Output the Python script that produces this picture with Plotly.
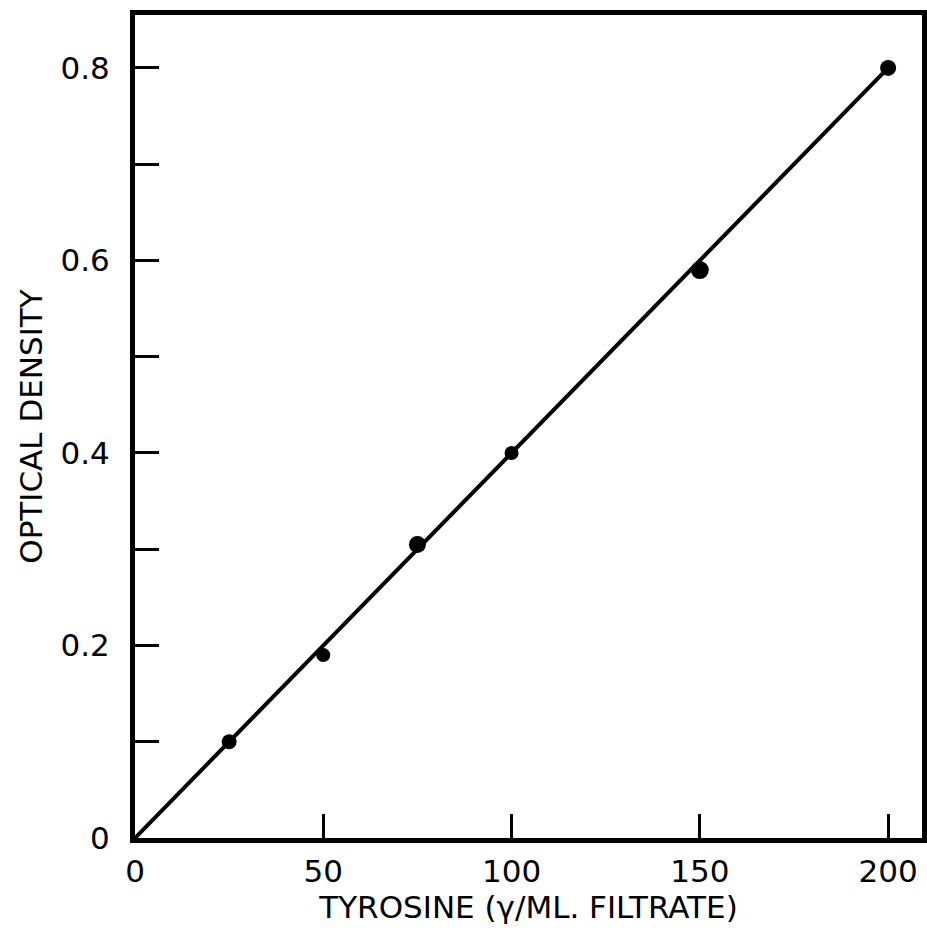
import plotly.graph_objects as go

# Data
tyrosine = [25, 50, 75, 100, 150, 200]
optical_density = [0.10, 0.19, 0.305, 0.40, 0.59, 0.80]
marker_sizes = [15, 14, 17, 14, 18, 16]

# Calibration line
fit_x = [0, 200]
fit_y = [0.0, 0.80]

x_tickvals = [0, 50, 100, 150, 200]
x_ticktext = ["0", "50", "100", "150", "200"]
y_tickvals = [0, 0.1, 0.2, 0.3, 0.4, 0.5, 0.6, 0.7, 0.8]
y_ticktext = ["0", "", "0.2", "", "0.4", "", "0.6", "", "0.8"]

FONT = "DejaVu Sans"
FS = 31

fig = go.Figure()
fig.add_trace(go.Scatter(
    x=fit_x, y=fit_y, mode="lines",
    line=dict(color="black", width=4),
    showlegend=False, hoverinfo="skip",
))
fig.add_trace(go.Scatter(
    x=tyrosine, y=optical_density, mode="markers",
    marker=dict(color="black", size=marker_sizes, opacity=1, line=dict(width=0)),
    showlegend=False,
))

fig.update_layout(
    width=927, height=935,
    margin=dict(l=135, r=5, t=15, b=97),
    paper_bgcolor="white", plot_bgcolor="white",
    font=dict(family=FONT, color="black", size=FS),
    xaxis=dict(
        range=[0, 209], tickvals=x_tickvals, ticktext=x_ticktext,
        ticks="inside", ticklen=24, tickwidth=3, tickcolor="black",
        showline=True, linecolor="black", linewidth=5, mirror=True,
        showgrid=False, zeroline=False,
        tickfont=dict(size=FS, family=FONT), ticklabelstandoff=2,
        title=dict(text="TYROSINE (γ/ML. FILTRATE)", font=dict(size=FS, family=FONT), standoff=6),
        automargin=False,
    ),
    yaxis=dict(
        range=[0, 0.855], tickvals=y_tickvals, ticktext=y_ticktext,
        ticks="inside", ticklen=24, tickwidth=3, tickcolor="black",
        showline=True, linecolor="black", linewidth=5, mirror=True,
        showgrid=False, zeroline=False,
        tickfont=dict(size=FS, family=FONT), ticklabelstandoff=14,
        title=dict(text="OPTICAL DENSITY", font=dict(size=FS, family=FONT), standoff=10),
        automargin=False,
    ),
)

fig.write_html("out.html")
